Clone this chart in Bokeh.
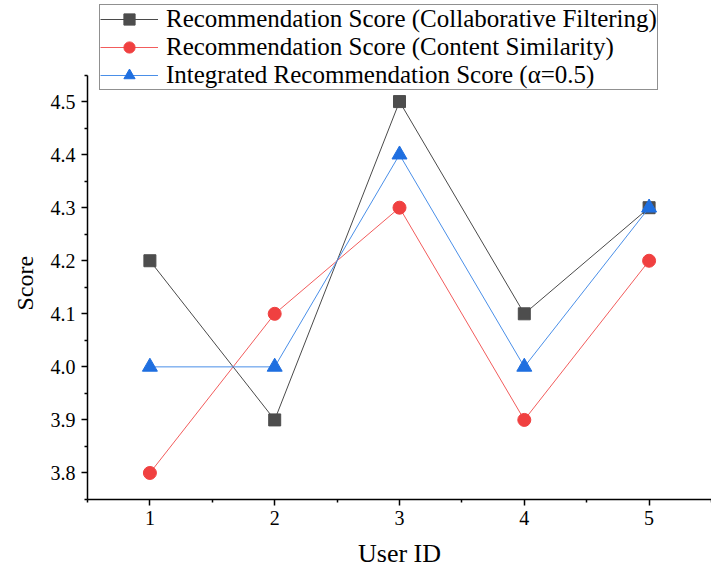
from bokeh.plotting import figure
from bokeh.models import Range1d, Legend, LegendItem, FixedTicker, CustomJSTickFormatter, Title
from bokeh.embed import file_html
from bokeh.resources import INLINE

user_ids = [1, 2, 3, 4, 5]
cf_scores = [4.2, 3.9, 4.5, 4.1, 4.3]
cs_scores = [3.8, 4.1, 4.3, 3.9, 4.2]
int_scores = [4.0, 4.0, 4.4, 4.0, 4.3]
y_ticks = [3.8, 3.9, 4.0, 4.1, 4.2, 4.3, 4.4, 4.5]

FONT = "Liberation Serif"

# axis spans 3.75..4.55 over 427 px; the frame extends 75 px higher to host the legend
Y_LO, Y_HI = 3.75, 4.55
Y_TOP = Y_HI + (Y_HI - Y_LO) * 75 / 427

p = figure(width=711, height=570, output_backend="svg", toolbar_location=None,
           x_range=Range1d(0.5, 5.5), y_range=Range1d(Y_LO, Y_TOP),
           min_border_left=87, min_border_top=0, min_border_bottom=68, min_border_right=0)
p.outline_line_color = None
p.xgrid.visible = False
p.ygrid.visible = False
p.background_fill_color = "white"

l1 = p.line(user_ids, cf_scores, line_color="#4a4a4a", line_width=1)
s1 = p.scatter(user_ids, cf_scores, marker="square", size=12, fill_color="#4d4d4d", line_color="#4d4d4d")
l2 = p.line(user_ids, cs_scores, line_color="#f25c5c", line_width=1)
s2 = p.scatter(user_ids, cs_scores, marker="circle", size=13, fill_color="#f04040", line_color="#f04040")
l3 = p.line(user_ids, int_scores, line_color="#4a8fe8", line_width=1)
s3 = p.scatter(user_ids, int_scores, marker="triangle", size=15, fill_color="#1f6fe0", line_color="#1f6fe0")

for ax in (p.xaxis[0], p.yaxis[0]):
    ax.axis_line_width = 1.5
    ax.axis_line_color = "black"
    ax.major_tick_line_width = 1.5
    ax.minor_tick_line_width = 1.5
    ax.major_tick_out = 6
    ax.major_tick_in = 0
    ax.minor_tick_out = 3
    ax.minor_tick_in = 0
    ax.major_label_text_font = FONT
    ax.major_label_text_font_size = "20px"
    ax.major_label_text_color = "black"
    ax.axis_label_text_font = FONT
    ax.axis_label_text_font_size = "26px"
    ax.axis_label_text_font_style = "normal"
    ax.axis_label_text_color = "black"

p.yaxis.bounds = (Y_LO, Y_HI)
p.xaxis.ticker = FixedTicker(ticks=user_ids, minor_ticks=[0.5, 1.5, 2.5, 3.5, 4.5, 5.5])
p.yaxis.ticker = FixedTicker(ticks=y_ticks,
                             minor_ticks=[3.75, 3.85, 3.95, 4.05, 4.15, 4.25, 4.35, 4.45, 4.55])
p.yaxis.formatter = CustomJSTickFormatter(code="return tick.toFixed(1);")
p.xaxis.axis_label = "User ID"
p.xaxis.major_label_standoff = 5
p.xaxis.axis_label_standoff = 11
p.yaxis.major_label_standoff = 6

# y-axis label, centred on the visible axis span rather than the whole frame
ylab = Title(text="Score", align="left", offset=189, text_font=FONT, text_font_size="24px",
             text_font_style="normal", text_color="black", standoff=19)
p.add_layout(ylab, "left")

legend = Legend(items=[
    LegendItem(label="Recommendation Score (Collaborative Filtering)", renderers=[l1, s1]),
    LegendItem(label="Recommendation Score (Content Similarity)", renderers=[l2, s2]),
    LegendItem(label="Integrated Recommendation Score (\u03b1=0.5)", renderers=[l3, s3]),
], location=(12, 409))
legend.label_text_font = FONT
legend.label_text_font_size = "25px"
legend.label_text_line_height = 1.0
legend.label_text_color = "black"
legend.label_height = 28
legend.glyph_height = 28
legend.glyph_width = 58
legend.label_standoff = 8
legend.spacing = 0
legend.padding = 0
legend.margin = 0
legend.border_line_color = "#222222"
legend.border_line_width = 1.5
legend.background_fill_alpha = 1
p.add_layout(legend, "center")

open("out.html", "w").write(file_html(p, INLINE))
